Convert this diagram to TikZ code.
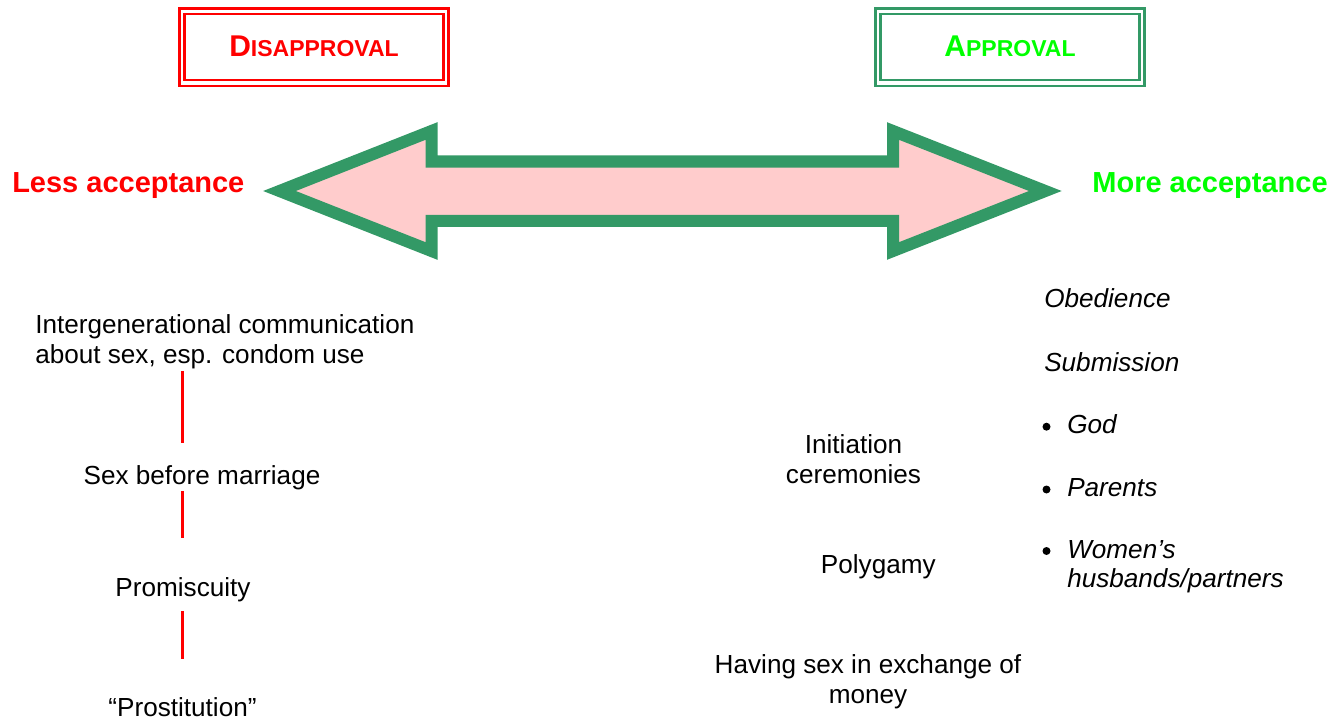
\documentclass[tikz,border=0pt]{standalone}
\usepackage{fontspec}
\setmainfont{Liberation Sans}
\definecolor{redc}{HTML}{FF0000}
\definecolor{limec}{HTML}{00FF00}
\definecolor{seagreen}{HTML}{339966}
\definecolor{pinkfill}{HTML}{FFCCCC}
\begin{document}
\begin{tikzpicture}[x=0.75pt,y=-0.75pt,
  body/.style={inner sep=0pt, font=\fontsize{19.6pt}{22.5pt}\selectfont},
  item/.style={body, font=\fontsize{19.6pt}{22pt}\selectfont\itshape},
  sidelabel/.style={inner sep=0pt, font=\fontsize{21.75pt}{24pt}\selectfont\bfseries},
  frameout/.style={draw, line width=1.8pt, minimum width=201.5pt, minimum height=58pt, inner sep=0pt},
  framein/.style={draw, line width=1.8pt, minimum width=194pt, minimum height=49.5pt, inner sep=0pt},
  redline/.style={draw=redc, line width=2.2pt},
  dot/.style={circle, fill=black, inner sep=0pt, minimum size=6pt},
  bigarrow/.style={draw=seagreen, fill=pinkfill, line width=9pt, miter limit=10}]
\useasboundingbox (0,0) rectangle (1340,724);

% header frames with double borders
\node[frameout, draw=redc, text=redc] (dis) at (314,47.3)
  {\raisebox{2.3pt}{\fontsize{22.5pt}{24pt}\selectfont\bfseries D\fontsize{17.25pt}{20pt}\selectfont ISAPPROVAL}};
\node[framein, draw=redc] (disin) at (dis.center) {};
\node[frameout, draw=seagreen, text=limec] (app) at (1010,47.3)
  {\raisebox{2.3pt}{\fontsize{22.5pt}{24pt}\selectfont\bfseries A\fontsize{17.25pt}{20pt}\selectfont PPROVAL}};
\node[framein, draw=seagreen] (appin) at (app.center) {};

% double-headed block arrow
\draw[bigarrow] (279.5,191) -- (431.5,131) -- (431.5,161.5) -- (893,161.5) -- (893,131)
  -- (1045.3,191) -- (893,251) -- (893,220.8) -- (431.5,220.8) -- (431.5,251) -- cycle;

% scale ends
\node[sidelabel, text=redc, anchor=base west] (less) at (12,192.3) {Less acceptance};
\node[sidelabel, text=limec, anchor=base east] (more) at (1328,192.3) {More acceptance};

% disapproved behaviours (multi-line nodes are placed by their last baseline)
\coordinate (lx) at (182.3,0);
\node[body, anchor=base west, align=left] (intergen) at (35,363.3)
  {Intergenerational communication\\about sex, esp. condom use};
\node[body, anchor=base] (sexb) at (202,484.3) {Sex before marriage};
\node[body, anchor=base] (promis) at (183,596.7) {Promiscuity};
\node[body, anchor=base] (prost) at (182.5,716) {“Prostitution”};
\draw[redline, shorten <=1.65pt, shorten >=16.7pt] (intergen.south -| lx) -- (sexb.north -| lx);
\draw[redline, shorten <=0.9pt, shorten >=29.5pt] (sexb.south -| lx) -- (promis.north -| lx);
\draw[redline, shorten <=6.6pt, shorten >=28.7pt] (promis.south -| lx) -- (prost.north -| lx);

% approved practices
\node[body, anchor=base, align=center] (init) at (853.5,483.3) {Initiation\\ceremonies};
\node[body, anchor=base] (poly) at (878.3,573.3) {Polygamy};
\node[body, anchor=base, align=center] (money) at (868,703.3) {Having sex in exchange of\\money};

% values
\node[item, anchor=base west] (obed) at (1044,307.3) {Obedience};
\node[item, anchor=base west] (subm) at (1044,371) {Submission};
\node[item, anchor=base west] (god) at (1067,433.3) {God};
\node[item, anchor=base west] (par) at (1067,496.7) {Parents};
\node[item, anchor=base west, align=left] (wom) at (1067,587.5) {Women’s\\husbands/partners};
\node[dot] (b1) at (1046.5,426.7) {};
\node[dot] (b2) at (1046.5,489.5) {};
\node[dot] (b3) at (1046.5,551) {};
\end{tikzpicture}
\end{document}
